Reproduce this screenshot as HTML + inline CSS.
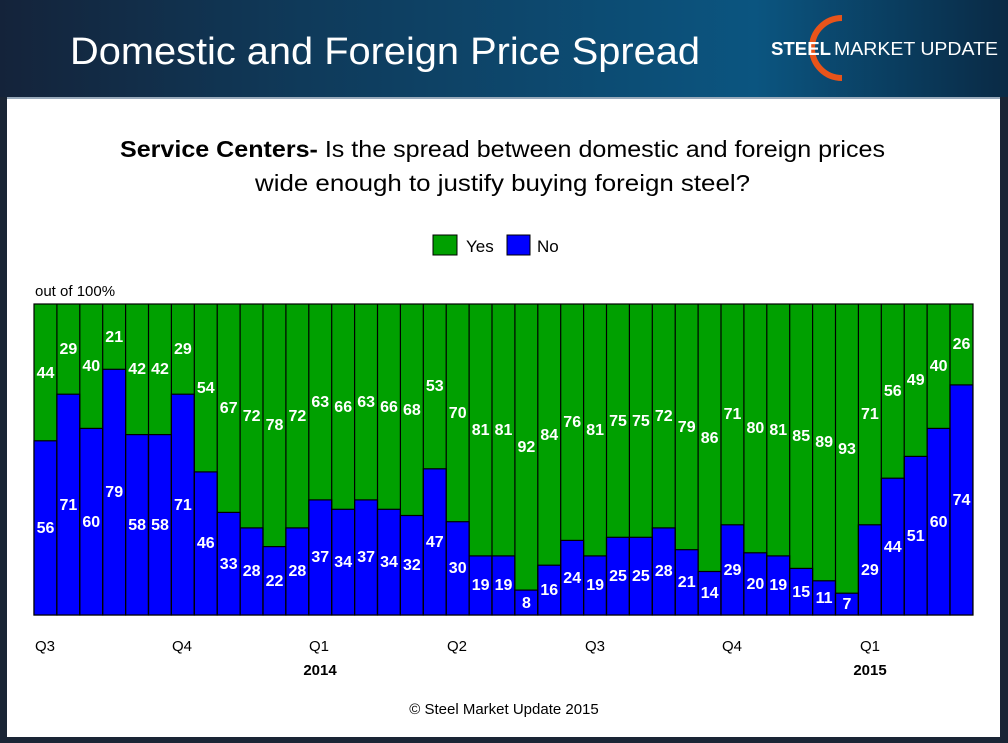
<!DOCTYPE html>
<html><head><meta charset="utf-8"><style>
body{margin:0;width:1008px;height:743px;overflow:hidden;background:#1a2535;font-family:"Liberation Sans",sans-serif}
#hdr{position:absolute;left:0;top:0;width:1008px;height:97px;background:linear-gradient(90deg,#14233a 0%,#0f3a5a 30%,#0b5580 75%,#0a2a45 100%)}
#panel{position:absolute;left:7px;top:97px;width:993px;height:638px;background:#fff;border-top:2px solid #9ab}
</style></head><body>
<div id="hdr"></div><div id="panel"></div>
<svg width="1008" height="743" style="position:absolute;left:0;top:0" font-family="Liberation Sans, sans-serif">
<text x="70" y="64" fill="#fff" font-size="38" textLength="630" lengthAdjust="spacingAndGlyphs">Domestic and Foreign Price Spread</text>
<path d="M842 18 A30 30 0 0 0 842 78" stroke="#e8541a" stroke-width="6" fill="none"/>
<text x="771" y="55" fill="#fff" font-size="18" font-weight="bold" textLength="60" lengthAdjust="spacingAndGlyphs">STEEL</text>
<text x="834" y="55" fill="#fff" font-size="18" textLength="164" lengthAdjust="spacingAndGlyphs">MARKET UPDATE</text>
<text x="120" y="157" font-size="23" fill="#000" textLength="765" lengthAdjust="spacingAndGlyphs"><tspan font-weight="bold">Service Centers-</tspan> Is the spread between domestic and foreign prices</text>
<text x="255" y="191" font-size="23" fill="#000" textLength="495" lengthAdjust="spacingAndGlyphs">wide enough to justify buying foreign steel?</text>
<rect x="433" y="235" width="24" height="20" fill="#00a000" stroke="#000"/><text x="466" y="252" font-size="17">Yes</text>
<rect x="507" y="235" width="23" height="20" fill="#0000ff" stroke="#000"/><text x="537" y="252" font-size="17">No</text>
<text x="35" y="296" font-size="15">out of 100%</text>
<g stroke="#000" stroke-width="1.2">
<rect x="34" y="304" width="939" height="311" fill="#00a000"/>
</g>
<g id="bars" stroke="#000" stroke-width="1.2" fill="#0000ff">
<rect x="34.0" y="440.8" width="22.9" height="174.2"/><rect x="56.9" y="394.2" width="22.9" height="220.8"/><rect x="79.8" y="428.4" width="22.9" height="186.6"/><rect x="102.7" y="369.3" width="22.9" height="245.7"/><rect x="125.6" y="434.6" width="22.9" height="180.4"/><rect x="148.5" y="434.6" width="22.9" height="180.4"/><rect x="171.4" y="394.2" width="22.9" height="220.8"/><rect x="194.3" y="471.9" width="22.9" height="143.1"/><rect x="217.2" y="512.4" width="22.9" height="102.6"/><rect x="240.1" y="527.9" width="22.9" height="87.1"/><rect x="263.0" y="546.6" width="22.9" height="68.4"/><rect x="285.9" y="527.9" width="22.9" height="87.1"/><rect x="308.8" y="499.9" width="22.9" height="115.1"/><rect x="331.7" y="509.3" width="22.9" height="105.7"/><rect x="354.6" y="499.9" width="22.9" height="115.1"/><rect x="377.5" y="509.3" width="22.9" height="105.7"/><rect x="400.4" y="515.5" width="22.9" height="99.5"/><rect x="423.3" y="468.8" width="22.9" height="146.2"/><rect x="446.2" y="521.7" width="22.9" height="93.3"/><rect x="469.1" y="555.9" width="22.9" height="59.1"/><rect x="492.0" y="555.9" width="22.9" height="59.1"/><rect x="514.9" y="590.1" width="22.9" height="24.9"/><rect x="537.8" y="565.2" width="22.9" height="49.8"/><rect x="560.7" y="540.4" width="22.9" height="74.6"/><rect x="583.6" y="555.9" width="22.9" height="59.1"/><rect x="606.5" y="537.3" width="22.9" height="77.7"/><rect x="629.4" y="537.3" width="22.9" height="77.7"/><rect x="652.3" y="527.9" width="22.9" height="87.1"/><rect x="675.2" y="549.7" width="22.9" height="65.3"/><rect x="698.1" y="571.5" width="22.9" height="43.5"/><rect x="721.0" y="524.8" width="22.9" height="90.2"/><rect x="743.9" y="552.8" width="22.9" height="62.2"/><rect x="766.8" y="555.9" width="22.9" height="59.1"/><rect x="789.7" y="568.4" width="22.9" height="46.6"/><rect x="812.6" y="580.8" width="22.9" height="34.2"/><rect x="835.5" y="593.2" width="22.9" height="21.8"/><rect x="858.4" y="524.8" width="22.9" height="90.2"/><rect x="881.3" y="478.2" width="22.9" height="136.8"/><rect x="904.2" y="456.4" width="22.9" height="158.6"/><rect x="927.1" y="428.4" width="22.9" height="186.6"/><rect x="950.0" y="384.9" width="22.9" height="230.1"/>
</g>
<g stroke="#000" stroke-width="1.2">
<path d="M56.9 304V615M79.8 304V615M102.7 304V615M125.6 304V615M148.5 304V615M171.4 304V615M194.3 304V615M217.2 304V615M240.1 304V615M263 304V615M285.9 304V615M308.8 304V615M331.7 304V615M354.6 304V615M377.5 304V615M400.4 304V615M423.3 304V615M446.2 304V615M469.1 304V615M492 304V615M514.9 304V615M537.8 304V615M560.7 304V615M583.6 304V615M606.5 304V615M629.4 304V615M652.3 304V615M675.2 304V615M698.1 304V615M721 304V615M743.9 304V615M766.8 304V615M789.7 304V615M812.6 304V615M835.5 304V615M858.4 304V615M881.3 304V615M904.2 304V615M927.1 304V615M950 304V615"/>
</g>
<g fill="#fff" font-size="16" font-weight="bold" text-anchor="middle">
<text x="45.5" y="378">44</text><text x="45.5" y="533">56</text>
<text x="68.4" y="354">29</text><text x="68.4" y="510">71</text>
<text x="91.3" y="371">40</text><text x="91.3" y="527">60</text>
<text x="114.2" y="342">21</text><text x="114.2" y="497">79</text>
<text x="137.1" y="374">42</text><text x="137.1" y="530">58</text>
<text x="160" y="374">42</text><text x="160" y="530">58</text>
<text x="182.9" y="354">29</text><text x="182.9" y="510">71</text>
<text x="205.8" y="393">54</text><text x="205.8" y="548">46</text>
<text x="228.7" y="413">67</text><text x="228.7" y="569">33</text>
<text x="251.6" y="421">72</text><text x="251.6" y="576">28</text>
<text x="274.5" y="430">78</text><text x="274.5" y="586">22</text>
<text x="297.4" y="421">72</text><text x="297.4" y="576">28</text>
<text x="320.3" y="407">63</text><text x="320.3" y="562">37</text>
<text x="343.2" y="412">66</text><text x="343.2" y="567">34</text>
<text x="366.1" y="407">63</text><text x="366.1" y="562">37</text>
<text x="389" y="412">66</text><text x="389" y="567">34</text>
<text x="411.9" y="415">68</text><text x="411.9" y="570">32</text>
<text x="434.8" y="391">53</text><text x="434.8" y="547">47</text>
<text x="457.7" y="418">70</text><text x="457.7" y="573">30</text>
<text x="480.6" y="435">81</text><text x="480.6" y="590">19</text>
<text x="503.5" y="435">81</text><text x="503.5" y="590">19</text>
<text x="526.4" y="452">92</text><text x="526.4" y="608">8</text>
<text x="549.3" y="440">84</text><text x="549.3" y="595">16</text>
<text x="572.2" y="427">76</text><text x="572.2" y="583">24</text>
<text x="595.1" y="435">81</text><text x="595.1" y="590">19</text>
<text x="618" y="426">75</text><text x="618" y="581">25</text>
<text x="640.9" y="426">75</text><text x="640.9" y="581">25</text>
<text x="663.8" y="421">72</text><text x="663.8" y="576">28</text>
<text x="686.7" y="432">79</text><text x="686.7" y="587">21</text>
<text x="709.6" y="443">86</text><text x="709.6" y="598">14</text>
<text x="732.5" y="419">71</text><text x="732.5" y="575">29</text>
<text x="755.4" y="433">80</text><text x="755.4" y="589">20</text>
<text x="778.3" y="435">81</text><text x="778.3" y="590">19</text>
<text x="801.2" y="441">85</text><text x="801.2" y="597">15</text>
<text x="824.1" y="447">89</text><text x="824.1" y="603">11</text>
<text x="847" y="454">93</text><text x="847" y="609">7</text>
<text x="869.9" y="419">71</text><text x="869.9" y="575">29</text>
<text x="892.8" y="396">56</text><text x="892.8" y="552">44</text>
<text x="915.7" y="385">49</text><text x="915.7" y="541">51</text>
<text x="938.6" y="371">40</text><text x="938.6" y="527">60</text>
<text x="961.5" y="349">26</text><text x="961.5" y="505">74</text>
</g>
<g font-size="15" fill="#000">
<text x="35" y="651">Q3</text><text x="172" y="651">Q4</text><text x="309" y="651">Q1</text><text x="447" y="651">Q2</text><text x="585" y="651">Q3</text><text x="722" y="651">Q4</text><text x="860" y="651">Q1</text>
<text x="320" y="675" font-weight="bold" text-anchor="middle">2014</text>
<text x="870" y="675" font-weight="bold" text-anchor="middle">2015</text>
<text x="504" y="714" text-anchor="middle">© Steel Market Update 2015</text>
</g>
</svg>
</body></html>
